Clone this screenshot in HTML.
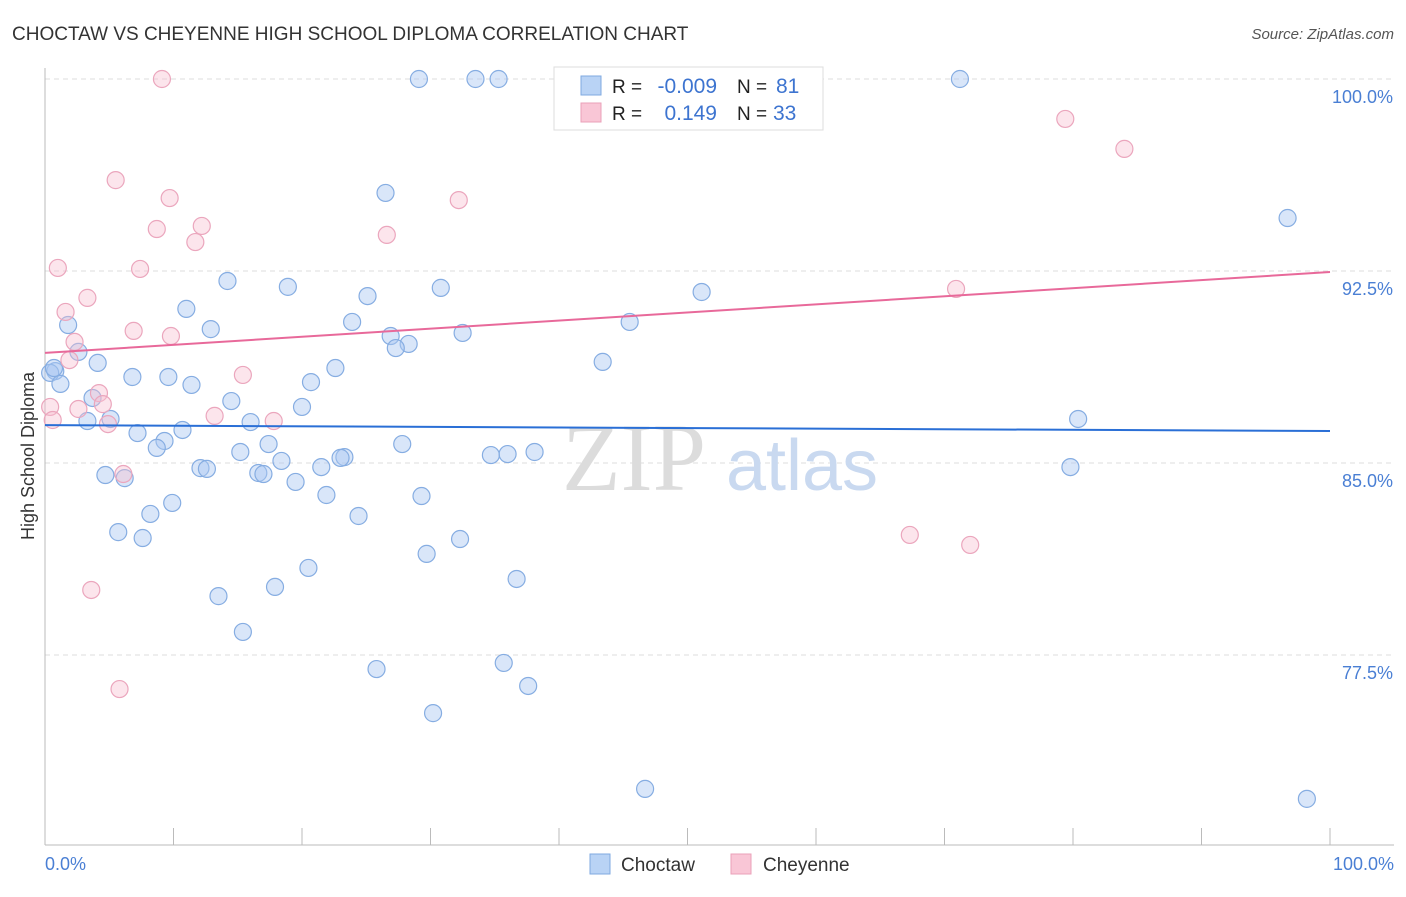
<!DOCTYPE html>
<html><head><meta charset="utf-8"><style>
body{margin:0;background:#fff;font-family:"Liberation Sans",sans-serif;}
svg text{font-family:"Liberation Sans",sans-serif;}
</style></head><body>
<svg id="chart" width="1406" height="892">
<text x="12" y="40" font-size="19" fill="#333">CHOCTAW VS CHEYENNE HIGH SCHOOL DIPLOMA CORRELATION CHART</text>
<text x="1394" y="39" font-size="15" fill="#555" font-style="italic" text-anchor="end">Source: ZipAtlas.com</text>
<g id="grid"></g>
<g id="axes"></g>
<g>
<text x="634" y="490" font-size="96" fill="#dcdcdc" text-anchor="middle" style="font-family:'Liberation Serif',serif">ZIP</text>
<text x="802" y="490" font-size="72" fill="#c9d9f0" text-anchor="middle">atlas</text>
</g>
<g id="pts"></g>
<g id="trends"></g>
<text transform="translate(34,456) rotate(-90)" font-size="18" fill="#333" text-anchor="middle">High School Diploma</text>
<text x="45" y="870" font-size="18" fill="#4a7fd4">0.0%</text>
<text x="1394" y="870" font-size="18" fill="#4a7fd4" text-anchor="end">100.0%</text>
<g>
<rect x="554" y="67" width="269" height="63" fill="#fff" stroke="#ddd"/>
<rect x="581" y="76" width="20" height="19" fill="#b9d3f5" stroke="#7fa9e0"/>
<rect x="581" y="103" width="20" height="19" fill="#f9c6d6" stroke="#eaa0b8"/>
<text x="612" y="93" font-size="19" fill="#222">R =</text><text x="717" y="93" font-size="21" fill="#3d74d0" text-anchor="end">-0.009</text>
<text x="737" y="93" font-size="19" fill="#222">N =</text><text x="776" y="93" font-size="21" fill="#3d74d0">81</text>
<text x="612" y="120" font-size="19" fill="#222">R =</text><text x="717" y="120" font-size="21" fill="#3d74d0" text-anchor="end">0.149</text>
<text x="737" y="120" font-size="19" fill="#222">N =</text><text x="773" y="120" font-size="21" fill="#3d74d0">33</text>
</g>
<g>
<rect x="590" y="854" width="20" height="20" fill="#b9d3f5" stroke="#7fa9e0"/>
<text x="621" y="871" font-size="19" fill="#333">Choctaw</text>
<rect x="731" y="854" width="20" height="20" fill="#f9c6d6" stroke="#eaa0b8"/>
<text x="763" y="871" font-size="19" fill="#333">Cheyenne</text>
</g>
</svg>
<script>
const yTicks=[100,92.5,85,77.5];
const yTickLabels=["100.0%","92.5%","85.0%","77.5%"];
const xTicks=[0,10,20,30,40,50,60,70,80,90,100];
const blueX=[29.1,33.5,35.3,71.2,96.7,26.5,14.2,18.9,30.8,25.1,51.1,11.0,1.8,12.9,23.9,45.5,32.5,26.9,28.3,27.3,2.6,43.4,4.1,0.8,0.4,1.2,6.8,9.6,11.4,20.7,22.6,3.7,14.5,20.0,5.1,3.3,16.0,80.4,7.2,10.7,9.3,8.7,17.4,27.8,15.2,38.1,23.3,23.0,34.7,36.0,18.4,21.5,12.1,12.6,4.7,16.6,17.0,6.2,79.8,19.5,21.9,29.3,9.9,8.2,24.4,5.7,7.6,32.3,29.7,20.5,36.7,17.9,13.5,15.4,25.8,35.7,37.6,30.2,46.7,98.2,0.7];
const blueY=[100,100,100,100,94.57,95.55,92.11,91.88,91.84,91.52,91.68,91.02,90.39,90.23,90.51,90.51,90.08,89.96,89.65,89.49,89.34,88.95,88.91,88.59,88.52,88.09,88.36,88.36,88.05,88.16,88.71,87.54,87.42,87.19,86.72,86.64,86.6,86.72,86.17,86.29,85.86,85.59,85.74,85.74,85.43,85.43,85.23,85.2,85.31,85.35,85.08,84.84,84.8,84.77,84.53,84.61,84.57,84.41,84.84,84.26,83.75,83.71,83.44,83.01,82.93,82.3,82.07,82.03,81.45,80.9,80.47,80.16,79.8,78.4,76.95,77.19,76.29,75.23,72.27,71.88,88.71];
const pinkX=[9.1,79.4,84.0,5.5,9.7,32.2,8.7,12.2,11.7,26.6,1.0,7.4,3.3,1.6,70.9,6.9,9.8,2.3,1.9,15.4,4.2,4.5,2.6,0.4,13.2,17.8,0.6,4.9,6.1,67.3,72.0,3.6,5.8];
const pinkY=[100,98.44,97.27,96.05,95.35,95.27,94.14,94.26,93.63,93.91,92.62,92.58,91.45,90.9,91.8,90.16,89.96,89.73,89.02,88.44,87.73,87.3,87.11,87.19,86.84,86.64,86.68,86.52,84.57,82.19,81.8,80.04,76.17];
const blueTrend=[86.48,86.25];
const pinkTrend=[89.3,92.46];
const NS="http://www.w3.org/2000/svg";
const X=v=>45+v*12.85, Y=v=>79+(100-v)*25.6;
function mk(t,a,p){const e=document.createElementNS(NS,t);for(const k in a)e.setAttribute(k,a[k]);p.appendChild(e);return e;}
const grid=document.getElementById('grid'),axes=document.getElementById('axes'),pts=document.getElementById('pts'),tr=document.getElementById('trends');
yTicks.forEach((v,i)=>{
 const l=mk('line',{x1:45,x2:1394,y1:Y(v),y2:Y(v),stroke:'#ddd','stroke-dasharray':'5,4'},grid);
 
 
 const t=mk('text',{x:1393,y:Y(v)+24,'font-size':18,fill:'#4a7fd4','text-anchor':'end'},grid);
 t.textContent=yTickLabels[i];
 
 
});
mk('line',{x1:45,x2:45,y1:68,y2:845,stroke:'#bbb'},axes);
mk('line',{x1:45,x2:1394,y1:845,y2:845,stroke:'#bbb'},axes);
xTicks.forEach(v=>{
 const t=mk('line',{x1:X(v),x2:X(v),y1:828,y2:845,stroke:'#bbb'},axes);
 
 
});
function dots(xs,ys,fill,stroke,name){
 xs.forEach((x,i)=>{
  const c=mk('circle',{cx:X(x),cy:Y(ys[i]),r:8.5,fill:fill,stroke:stroke,'stroke-width':1.2},pts);
  
  
 });
}
dots(blueX,blueY,'rgba(170,200,242,0.45)','#86ade2','choctaw-point');
dots(pinkX,pinkY,'rgba(247,190,208,0.4)','#eba6bd','cheyenne-point');
const bt=mk('line',{x1:X(0),x2:X(100),y1:Y(blueTrend[0]),y2:Y(blueTrend[1]),stroke:'#2a6fd6','stroke-width':2},tr);


const pt=mk('line',{x1:X(0),x2:X(100),y1:Y(pinkTrend[0]),y2:Y(pinkTrend[1]),stroke:'#e8699a','stroke-width':2},tr);


</script>
</body></html>
